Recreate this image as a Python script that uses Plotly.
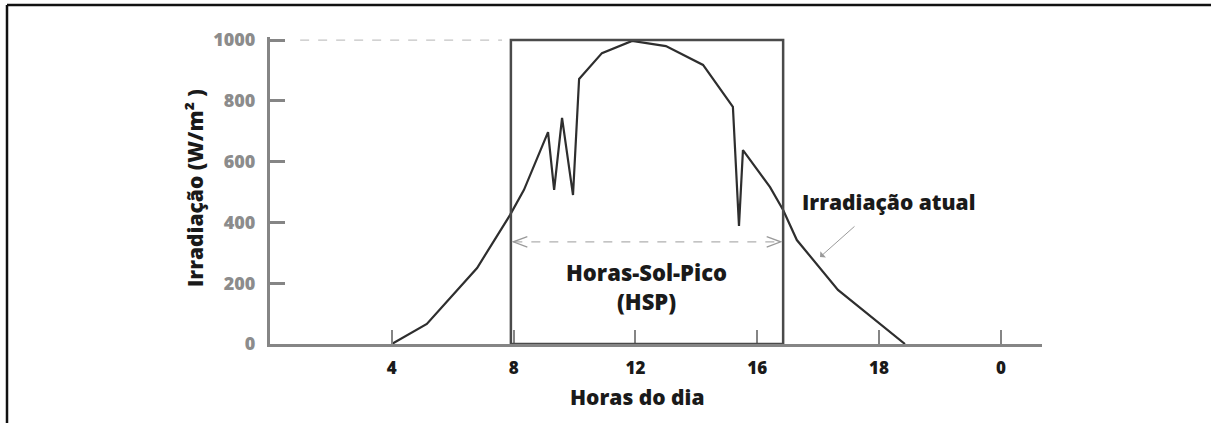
import plotly.graph_objects as go

# Irradiance profile over the day (axis units along x, W/m² along y)
hour_pos = [4.0, 5.15, 6.8, 7.88, 8.34, 9.13, 9.33, 9.59, 9.95, 10.15, 10.9,
            11.89, 13.0, 14.22, 15.2, 15.4, 15.53, 16.42, 16.85, 17.3, 18.65, 20.85]
irradiance = [0, 66, 250, 424, 507, 697, 507, 744, 490, 872, 957,
              997, 980, 918, 780, 388, 638, 516, 441, 342, 178, 0]

# Axis ticks
x_tickvals = [4, 8, 12, 16, 20, 24]
x_ticktext = ["4", "8", "12", "16", "18", "0"]
y_tickvals = [0, 200, 400, 600, 800, 1000]

# Peak-sun-hours block
hsp_start, hsp_end, hsp_level = 7.91, 16.85, 1000
hsp_arrow_y = 336

# Layout geometry
W, H = 1211, 423
ML, MR, MT, MB = 270, 169, 37, 79
X_RANGE = [0, 25.35]
Y_RANGE = [0, 1010]
pw, ph = W - ML - MR, H - MT - MB


def px_x(px):
    return (px - ML) / pw


def px_y(py):
    return (H - MB - py) / ph


FONT = "Open Sans"
AXIS_GREY = "#858585"
TEXT = "#1a1a1a"

fig = go.Figure()

fig.add_trace(go.Scatter(
    x=hour_pos, y=irradiance, mode="lines",
    line=dict(color="#2e2e2e", width=2.2), showlegend=False, hoverinfo="skip"))

shapes = []
# outer frame: top and left edges (the rest runs off the page)
frame = dict(color="#111111", width=2.5)
shapes.append(dict(type="line", xref="paper", yref="paper",
                   x0=px_x(7), x1=px_x(W), y0=px_y(5), y1=px_y(5),
                   line=frame, layer="above"))
shapes.append(dict(type="line", xref="paper", yref="paper",
                   x0=px_x(7), x1=px_x(7), y0=px_y(5), y1=px_y(H),
                   line=frame, layer="above"))
# dashed guide at 1000 W/m²
shapes.append(dict(type="line", xref="x", yref="y", x0=0.99, x1=7.62,
                   y0=hsp_level, y1=hsp_level,
                   line=dict(color="#c4c4c4", width=1.2, dash="dash")))
# HSP rectangle
shapes.append(dict(type="rect", xref="x", yref="y", x0=hsp_start, x1=hsp_end,
                   y0=0, y1=hsp_level, line=dict(color="#4a4a4a", width=2.5)))
# double-headed dashed arrow across the HSP block
a0, a1 = hsp_start + 0.08, hsp_end - 0.08
shapes.append(dict(type="line", xref="x", yref="y", x0=a0, x1=a1,
                   y0=hsp_arrow_y, y1=hsp_arrow_y,
                   line=dict(color="#b0b0b0", width=1.3, dash="dash")))
arm_dx, arm_dy = 0.46, 17
for tip, d in ((a0, 1), (a1, -1)):
    shapes.append(dict(
        type="path", xref="x", yref="y",
        path=f"M {tip + d * arm_dx} {hsp_arrow_y + arm_dy} L {tip} {hsp_arrow_y} "
             f"L {tip + d * arm_dx} {hsp_arrow_y - arm_dy}",
        line=dict(color="#9a9a9a", width=1.3)))

annotations = [
    dict(x=(hsp_start + hsp_end) / 2 - 0.03, y=188, xref="x", yref="y",
         text="Horas-Sol-Pico<br>(HSP)", showarrow=False,
         xanchor="center", yanchor="middle",
         font=dict(family=FONT, size=22, color=TEXT, weight=800), align="center"),
    dict(x=20.3, y=467, xref="x", yref="y", text="Irradiação atual",
         showarrow=False, xanchor="center", yanchor="middle",
         font=dict(family=FONT, size=21, color=TEXT, weight=800)),
    dict(x=18.06, y=286, xref="x", yref="y", text="", showarrow=True,
         ax=36, ay=-32, arrowhead=1, arrowsize=1.4, arrowwidth=1,
         arrowcolor="#9a9a9a"),
    dict(x=px_x(195), y=px_y(188), xref="paper", yref="paper",
         xanchor="center", yanchor="middle",
         text="Irradiação (W/m² )", showarrow=False, textangle=-90,
         font=dict(family=FONT, size=21, color=TEXT, weight=800)),
    dict(x=px_x(637), y=px_y(397), xref="paper", yref="paper",
         xanchor="center", yanchor="middle",
         text="Horas do dia", showarrow=False,
         font=dict(family=FONT, size=21, color=TEXT, weight=800)),
]

fig.update_layout(
    width=W, height=H,
    margin=dict(l=ML, r=MR, t=MT, b=MB, pad=0),
    paper_bgcolor="white", plot_bgcolor="white",
    shapes=shapes, annotations=annotations,
    xaxis=dict(range=X_RANGE, tickvals=x_tickvals, ticktext=x_ticktext,
               showgrid=False, zeroline=False, showline=True,
               linecolor=AXIS_GREY, linewidth=3,
               ticks="inside", ticklen=14, tickwidth=2, tickcolor=AXIS_GREY,
               ticklabelstandoff=7,
               tickfont=dict(family=FONT, size=17, color=TEXT, weight=800)),
    yaxis=dict(range=Y_RANGE, tickvals=y_tickvals,
               showgrid=False, zeroline=False, showline=True,
               linecolor=AXIS_GREY, linewidth=3,
               ticks="inside", ticklen=15, tickwidth=3, tickcolor=AXIS_GREY,
               ticklabelstandoff=8,
               tickfont=dict(family=FONT, size=18, color="#8c8c8c", weight=800)),
)

fig.write_html("out.html", config={"displayModeBar": False})
